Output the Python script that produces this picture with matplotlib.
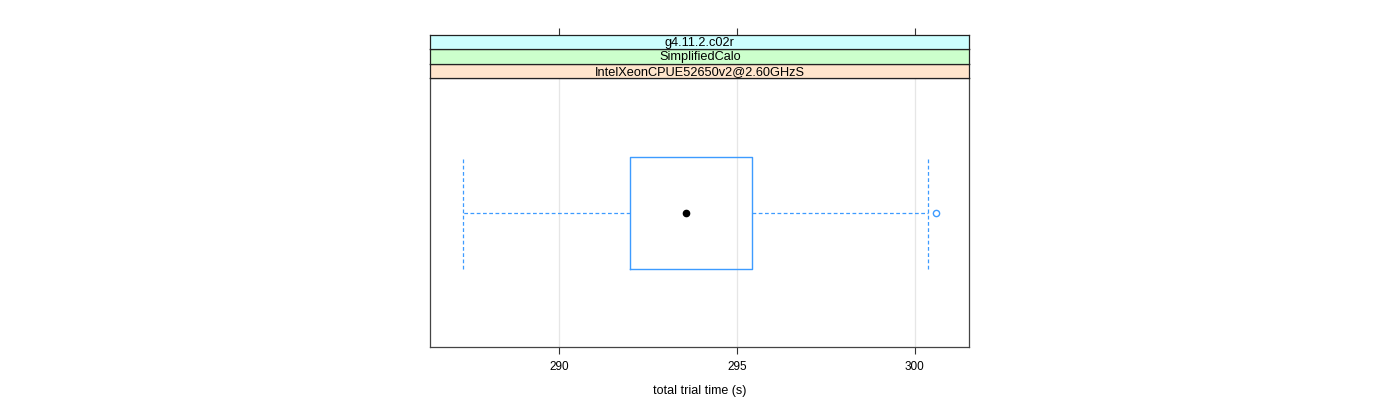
import matplotlib
matplotlib.use("Agg")
import matplotlib.pyplot as plt

# ---- data ----
strip_labels = ["IntelXeonCPUE52650v2@2.60GHzS", "SimplifiedCalo", "g4.11.2.c02r"]
strip_colors = ["#ffe5cc", "#ccffcc", "#ccffff"]
whisker_low = 287.30
q1 = 292.0
median = 293.56
q3 = 295.42
whisker_high = 300.37
outliers = [300.61]
xticks = [290, 295, 300]
xlim = (286.37, 301.54)
xlabel = "total trial time (s)"

plt.rcParams['font.family'] = ['Liberation Sans', 'DejaVu Sans']
W, H = 1400, 400
fig = plt.figure(figsize=(14, 4), dpi=100)

L, R = 430.3, 969.3
ptop, pbot = 78.3, 347
ax = fig.add_axes([L / W, 1 - pbot / H, (R - L) / W, (pbot - ptop) / H])
ax.set_xlim(*xlim)
ax.set_ylim(0.4, 1.6)
blue = "#3d9bff"
stats = [dict(whislo=whisker_low, q1=q1, med=median, q3=q3, whishi=whisker_high,
              fliers=outliers, mean=median)]
ax.bxp(stats, positions=[1], widths=0.5, capwidths=0.5, orientation='horizontal',
       showmeans=True,
       boxprops=dict(color=blue, linewidth=1.0),
       whiskerprops=dict(color=blue, linewidth=0.9, linestyle=(0, (3, 2))),
       capprops=dict(color=blue, linewidth=0.9, linestyle=(0, (3, 2))),
       medianprops=dict(visible=False),
       meanprops=dict(marker='o', markerfacecolor='black', markeredgecolor='black', markersize=4.5),
       flierprops=dict(marker='o', markerfacecolor='none', markeredgecolor=blue, markersize=4.5,
                       markeredgewidth=1.0))
ax.set_xticks(xticks)
ax.set_xticklabels([str(t) for t in xticks], fontsize=8.5)
ax.set_yticks([])
for t in xticks:
    ax.axvline(t, color="#e6e6e6", linewidth=0.9, zorder=0)
ax.tick_params(axis='x', direction='out', length=5, width=0.8, color='#333333', pad=5)
for s in ax.spines.values():
    s.set_color('#444444')
    s.set_linewidth(0.9)
ax.set_xlabel(xlabel, fontsize=9, labelpad=9)

# strips
strip_edges = [78.3, 63.6, 49.0, 34.7]
for i, (lab, col) in enumerate(zip(strip_labels, strip_colors)):
    b, t = strip_edges[i], strip_edges[i + 1]
    sax = fig.add_axes([L / W, 1 - b / H, (R - L) / W, (b - t) / H])
    sax.set_xlim(*xlim)
    sax.set_facecolor(col)
    sax.set_yticks([])
    sax.set_xticks([])
    for s in sax.spines.values():
        s.set_color('#222222')
        s.set_linewidth(0.9)
    sax.text(0.5, 0.45, lab, transform=sax.transAxes, ha='center', va='center', fontsize=9.2)
    if i == len(strip_labels) - 1:
        sax.set_xticks(xticks)
        sax.xaxis.tick_top()
        sax.tick_params(axis='x', direction='out', length=5, width=0.8, color='#333333',
                        labeltop=False, labelbottom=False)

fig.savefig("out.png", dpi=100)
